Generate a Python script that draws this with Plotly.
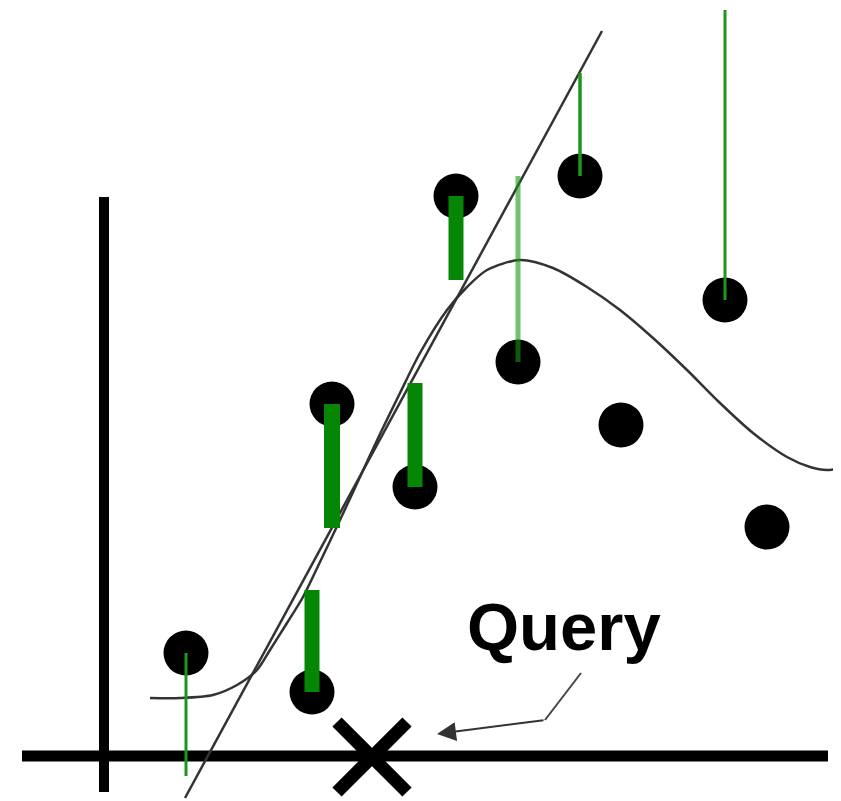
import plotly.graph_objects as go

# Data (diagram units: origin at the axis crossing)
point_x = [0.82, 2.08, 2.28, 3.11, 3.52, 4.14, 4.76, 5.17, 6.21, 6.63]
point_y = [1.03, 0.64, 3.52, 2.69, 5.60, 3.94, 5.80, 3.31, 4.56, 2.29]
# other end of each residual segment (None = no segment)
resid_end = [-0.20, 1.66, 2.28, 3.73, 4.76, 5.80, 6.83, None, 7.46, None]
resid_width = [3, 15, 16, 15, 15, 5, 3.5, 0, 3, 0]
resid_color = ["rgb(30,150,30)", "rgb(5,135,5)", "rgb(5,135,5)", "rgb(5,135,5)",
               "rgb(5,135,5)", "rgba(20,150,20,0.6)", "rgb(30,150,30)", None,
               "rgb(30,150,30)", None]

# local linear fit (two ends)
fit_x = [0.81, 4.98]
fit_y = [-0.42, 7.25]

# smooth global curve
curve_x = [0.46, 0.76, 1.09, 1.33, 1.53, 1.66, 1.83, 1.99, 2.16, 2.36, 2.56, 2.76,
           2.96, 3.16, 3.43, 3.63, 3.83, 4.16, 4.49, 4.83, 5.16, 5.49, 5.83, 6.16,
           6.49, 6.83, 7.06, 7.23, 7.37]
curve_y = [0.58, 0.58, 0.61, 0.71, 0.86, 1.06, 1.33, 1.59, 1.94, 2.36, 2.79, 3.22,
           3.63, 4.03, 4.46, 4.69, 4.86, 4.96, 4.88, 4.69, 4.46, 4.18, 3.86, 3.53,
           3.23, 2.99, 2.89, 2.86, 2.88]

query_x = [2.68]
query_y = [-0.01]
query_label = "Query"

# axis extents
haxis_x = [-0.82, 7.24]
vaxis_y = [-0.36, 5.59]

fig = go.Figure()

# axes
fig.add_trace(go.Scatter(x=haxis_x, y=[0, 0], mode="lines",
                         line=dict(color="black", width=11), hoverinfo="skip"))
fig.add_trace(go.Scatter(x=[0, 0], y=vaxis_y, mode="lines",
                         line=dict(color="black", width=10), hoverinfo="skip"))

# curve & fit line
fig.add_trace(go.Scatter(x=curve_x, y=curve_y, mode="lines", line_shape="spline",
                         line=dict(color="#333333", width=2.5, smoothing=0.8),
                         hoverinfo="skip"))
fig.add_trace(go.Scatter(x=fit_x, y=fit_y, mode="lines",
                         line=dict(color="#333333", width=2.5), hoverinfo="skip"))

# points
fig.add_trace(go.Scatter(x=point_x, y=point_y, mode="markers",
                         marker=dict(color="black", size=45, line=dict(width=0))))

# residuals
for px, py, pe, w, c in zip(point_x, point_y, resid_end, resid_width, resid_color):
    if pe is None:
        continue
    fig.add_trace(go.Scatter(x=[px, px], y=[py, pe], mode="lines",
                             line=dict(color=c, width=w), hoverinfo="skip"))

# query marker
fig.add_trace(go.Scatter(x=query_x, y=query_y, mode="markers",
                         marker=dict(symbol="x-thin", size=70, color="black",
                                     line=dict(color="black", width=13))))

# arrow pointer
fig.add_trace(go.Scatter(x=[4.77, 4.41], y=[0.83, 0.36], mode="lines",
                         line=dict(color="#444444", width=2), hoverinfo="skip"))
fig.add_annotation(x=3.33, y=0.22, ax=4.41, ay=0.36, xref="x", yref="y",
                   axref="x", ayref="y", text="", showarrow=True,
                   arrowhead=2, arrowsize=1.9, arrowwidth=2, arrowcolor="#333333")

fig.add_annotation(x=4.60, y=1.30, xref="x", yref="y", text="<b>%s</b>" % query_label,
                   showarrow=False, font=dict(family="Liberation Sans, Arial", size=67,
                                              color="black"),
                   xanchor="center", yanchor="middle")

# page body has an 8px margin: plot is 8px smaller and shifted
fig.update_layout(width=833, height=793, margin=dict(l=0, r=0, t=0, b=0),
                  paper_bgcolor="white", plot_bgcolor="white", showlegend=False,
                  xaxis=dict(range=[-0.96, 7.37], visible=False, fixedrange=True),
                  yaxis=dict(range=[-0.45, 7.48], visible=False, fixedrange=True))

fig.write_html("out.html")
